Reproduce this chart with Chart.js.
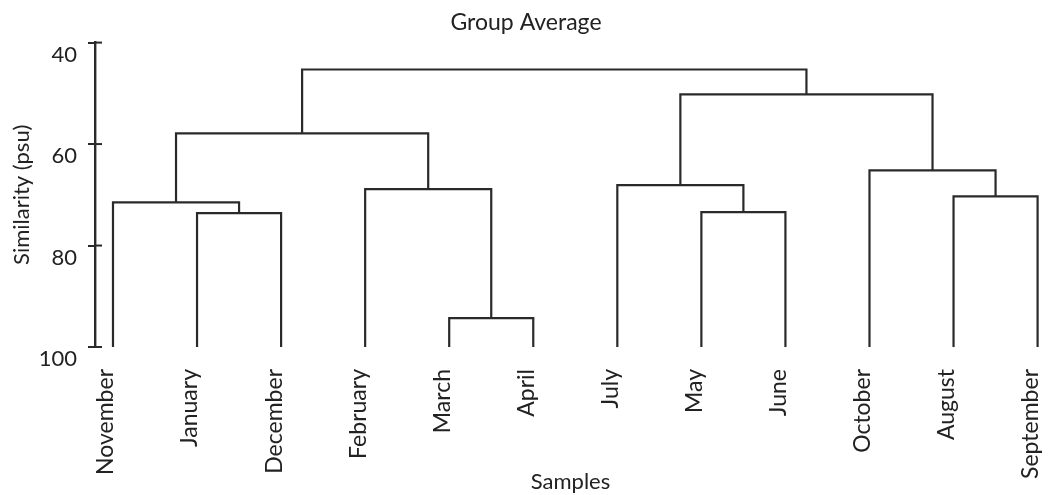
<!DOCTYPE html>
<html>
<head>
<meta charset="utf-8">
<script src="https://cdn.jsdelivr.net/npm/chart.js@4"></script>
<style>
html,body{margin:0;padding:0;background:#fff;}
#wrap{width:1054px;height:495px;position:relative;}
</style>
</head>
<body>
<div id="wrap"><canvas id="dendro"></canvas></div>
<script>
const samples = ['November','January','December','February','March','April','July','May','June','October','August','September'];
// each merge joins two nodes (leaves 0-11, merge i makes node 12+i)
const mergeLeft   = [1, 0, 4, 3, 13, 7, 6, 10, 9, 18, 16];
const mergeRight  = [2, 12, 5, 14, 15, 8, 17, 11, 19, 20, 21];
const mergeHeight = [73.6, 71.5, 94.3, 68.9, 57.9, 73.4, 68.1, 70.3, 65.2, 50.2, 45.3];
const yTicks = [40, 60, 80, 100];

const fontFam = 'Lato, "Open Sans", sans-serif';
const lineCol = '#2a2a2a';

// positions of the nodes on the leaf axis / similarity axis
const nodeX = samples.map((s, i) => i);
const nodeY = samples.map(() => 100);
const datasets = [];
for (let i = 0; i < mergeHeight.length; i++) {
  const a = mergeLeft[i], b = mergeRight[i], h = mergeHeight[i];
  datasets.push({
    data: [
      {x: nodeX[a], y: nodeY[a]},
      {x: nodeX[a], y: h},
      {x: nodeX[b], y: h},
      {x: nodeX[b], y: nodeY[b]}
    ],
    borderColor: lineCol,
    borderWidth: 2.2,
    pointRadius: 0,
    tension: 0,
    fill: false,
    clip: false
  });
  nodeX.push((nodeX[a] + nodeX[b]) / 2);
  nodeY.push(h);
}

// tick marks cross the axis line
const crossTicks = {
  id: 'crossTicks',
  afterDraw(chart) {
    const ys = chart.scales.y;
    const ctx = chart.ctx;
    ctx.save();
    ctx.strokeStyle = lineCol;
    ctx.lineWidth = 2;
    yTicks.forEach(v => {
      const py = ys.getPixelForValue(v);
      ctx.beginPath();
      ctx.moveTo(ys.right, py);
      ctx.lineTo(ys.right + 7, py);
      ctx.stroke();
    });
    ctx.restore();
  }
};

new Chart(document.getElementById('dendro').getContext('2d'), {
  type: 'line',
  data: {datasets: datasets},
  plugins: [crossTicks],
  options: {
    responsive: true,
    maintainAspectRatio: false,
    animation: false,
    layout: {padding: {left: 6, right: 8, top: 0, bottom: 0}},
    plugins: {
      legend: {display: false},
      tooltip: {enabled: false},
      title: {
        display: true,
        text: 'Group Average',
        color: '#222',
        font: {family: fontFam, size: 23, weight: 'normal'},
        padding: {top: 9, bottom: 6}
      }
    },
    scales: {
      x: {
        type: 'linear',
        min: -0.214,
        max: 11.1,
        afterBuildTicks: (scale) => { scale.ticks = samples.map((s, i) => ({value: i})); },
        afterFit: (scale) => {
          scale.height = 148;
          scale.paddingLeft = 0;
          scale.paddingRight = 0;
        },
        ticks: {
          autoSkip: false,
          minRotation: 90,
          maxRotation: 90,
          color: '#222',
          font: {family: fontFam, size: 23},
          padding: 22,
          labelOffset: -7,
          callback: (v) => samples[v]
        },
        grid: {display: false, drawTicks: false},
        border: {display: false},
        title: {
          display: true,
          text: 'Samples',
          color: '#222',
          font: {family: fontFam, size: 22},
          padding: {top: 0, bottom: 0}
        }
      },
      y: {
        type: 'linear',
        reverse: true,
        min: 40,
        max: 100,
        afterBuildTicks: (scale) => { scale.ticks = yTicks.map(v => ({value: v})); },
        afterFit: (scale) => { scale.width = 89; },
        ticks: {
          color: '#222',
          font: {family: fontFam, size: 22},
          labelOffset: 12,
          padding: 11
        },
        grid: {drawOnChartArea: false, tickLength: 7, color: lineCol, lineWidth: 2},
        border: {color: lineCol, width: 2.4},
        title: {
          display: true,
          text: 'Similarity (psu)',
          color: '#222',
          font: {family: fontFam, size: 22},
          padding: {top: 3, bottom: 5}
        }
      }
    }
  }
});
</script>
</body>
</html>
